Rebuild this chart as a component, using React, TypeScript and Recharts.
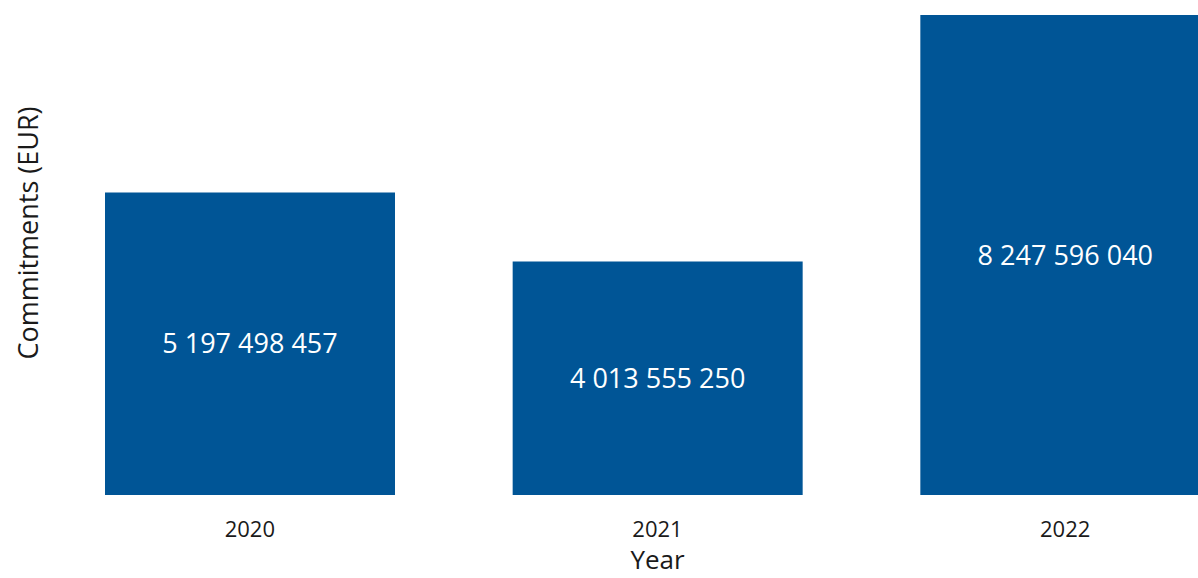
import { BarChart, Bar, XAxis, YAxis, LabelList, Label } from "recharts";

// Commitments per year (EUR)
const years = ["2020", "2021", "2022"];
const commitments = [5197498457, 4013555250, 8247596040];

const data = years.map((year, i) => ({ year, value: commitments[i] }));

const FONT = "'Open Sans', 'DejaVu Sans', sans-serif";
const BAR_COLOR = "#005596";

// 5197498457 -> "5 197 498 457"
const formatSpaced = (v: number | string) =>
  String(v).replace(/\B(?=(\d{3})+(?!\d))/g, " ");

export default function App() {
  return (
    <div
      style={{
        position: "fixed",
        top: 0,
        left: 0,
        width: 1198,
        height: 578,
        overflow: "hidden",
        background: "#fff",
      }}
    >
      <BarChart
        width={1290}
        height={578}
        data={data}
        margin={{ top: 15, right: 21, bottom: 0, left: 0 }}
        style={{ fontFamily: FONT }}
      >
        <XAxis
          dataKey="year"
          height={83}
          axisLine={false}
          tickLine={false}
          tickSize={0}
          tickMargin={26}
          tick={{ fontSize: 22, fill: "#1a1a1a", fontFamily: FONT }}
        >
          <Label
            value="Year"
            position="insideBottom"
            offset={9}
            style={{ fontSize: 26, fill: "#1a1a1a", fontFamily: FONT }}
          />
        </XAxis>
        <YAxis
          width={46}
          domain={[0, "dataMax"]}
          axisLine={false}
          tickLine={false}
          tick={false}
        >
          <Label
            content={({ viewBox }: any) => {
              const cx = viewBox.x + 27;
              const cy = viewBox.y + viewBox.height / 2 - 22;
              return (
                <text
                  x={0}
                  y={0}
                  transform={`translate(${cx}, ${cy}) rotate(-90)`}
                  textAnchor="middle"
                  dominantBaseline="central"
                  style={{ fontSize: 27, fill: "#1a1a1a", fontFamily: FONT }}
                >
                  Commitments (EUR)
                </text>
              );
            }}
          />
        </YAxis>
        <Bar dataKey="value" fill={BAR_COLOR} barSize={290} isAnimationActive={false}>
          <LabelList
            dataKey="value"
            position="center"
            formatter={formatSpaced as any}
            style={{ fontSize: 27, fill: "#fff", fontFamily: FONT }}
          />
        </Bar>
      </BarChart>
    </div>
  );
}
